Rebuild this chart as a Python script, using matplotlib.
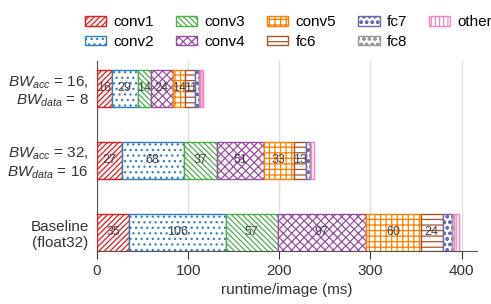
import matplotlib
matplotlib.use("Agg")
import matplotlib.pyplot as plt
import numpy as np

plt.rcParams["font.family"] = ["Liberation Sans", "DejaVu Sans"]
plt.rcParams["mathtext.fontset"] = "custom"
plt.rcParams["mathtext.rm"] = "Liberation Sans"
plt.rcParams["mathtext.it"] = "Liberation Sans:italic"
plt.rcParams["hatch.linewidth"] = 0.9

# datos (ms por imagen)
layers = ["conv1", "conv2", "conv3", "conv4", "conv5", "fc6", "fc7", "fc8", "other"]
config_labels = [
    "Baseline\n(float32)",
    r"$BW_{acc}$ = 32," + "\n" + r"$BW_{data}$ = 16",
    r"$BW_{acc}$ = 16," + "\n" + r"$BW_{data}$ = 8",
]
baseline = [35, 106, 57, 97, 60, 24, 10, 3, 5]
bw32_16 = [27, 68, 37, 51, 33, 13, 5, 1, 3]
bw16_8 = [16, 29, 14, 24, 14, 11, 4, 1, 3]
runtimes = [baseline, bw32_16, bw16_8]
labeled = ["conv1", "conv2", "conv3", "conv4", "conv5", "fc6"]

colors = ["#e41a1c", "#377eb8", "#4daf4a", "#984ea3", "#ff7f00",
          "#a65628", "#6a6ab8", "#999999", "#f781bf"]
hatches = ["//////", "...", "\\\\\\\\\\\\", "xxxx", "+++", "---", "ooo", "ooo", "||||"]

fig = plt.figure(figsize=(4.91, 3.04), dpi=100)
ax = fig.add_axes([97 / 491, 1 - 250.5 / 304, (476.7 - 97) / 491, (250.5 - 61) / 304])

ypos = np.arange(len(config_labels))
data = np.array(runtimes)
left = np.zeros(len(config_labels))
for j, layer in enumerate(layers):
    vals = data[:, j]
    bars = ax.barh(ypos, vals, left=left, height=0.51, color="white",
                   edgecolor=colors[j], hatch=hatches[j], linewidth=1.0,
                   label=layer, zorder=3)
    if layer in labeled:
        for b, v in zip(bars, vals):
            ax.text(b.get_x() + b.get_width() / 2, b.get_y() + b.get_height() / 2,
                    f"{v}", ha="center", va="center", fontsize=9,
                    color="#444444", zorder=4)
    left += vals

ax.set_xlim(0, 416.5)
ax.set_ylim(-0.255, 2.38)
ax.set_yticks(ypos)
ax.set_yticklabels(config_labels)
ax.set_xticks([0, 100, 200, 300, 400])
ax.set_xlabel("runtime/image (ms)", fontsize=11, color="#333333")
ax.tick_params(axis="x", direction="out", length=6, labelsize=11,
               colors="#333333")
ax.tick_params(axis="y", direction="in", length=4, labelsize=11,
               colors="#333333", pad=6)
ax.grid(axis="x", color="#e0e0e0", linewidth=1.0, zorder=0)
ax.spines["top"].set_visible(False)
ax.spines["right"].set_visible(False)
ax.spines["left"].set_color("#555555")
ax.spines["bottom"].set_color("#555555")

fig.legend(ncol=5, loc="upper left", bbox_to_anchor=(85 / 491, 1 - 15.5 / 304),
           frameon=False, fontsize=11, handlelength=1.4, handleheight=0.6,
           handletextpad=0.45, columnspacing=1.45, labelspacing=0.35,
           borderpad=0, borderaxespad=0)

plt.savefig("out.png", dpi=100)
